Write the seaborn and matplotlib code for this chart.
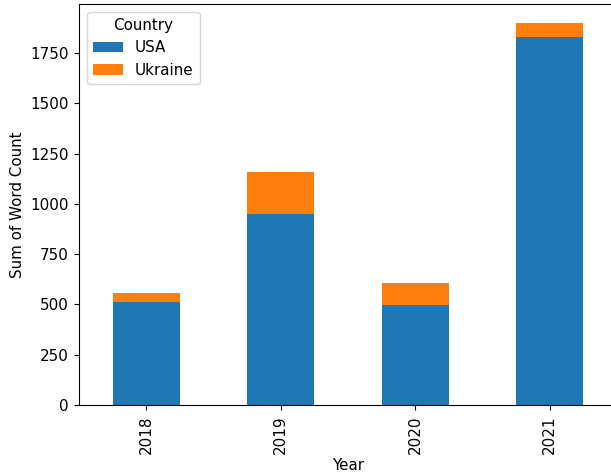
import matplotlib
matplotlib.use("Agg")
import matplotlib.pyplot as plt
from matplotlib.patches import Patch
import pandas as pd
import seaborn as sns

years = ["2018", "2019", "2020", "2021"]
usa_words = [510, 952, 496, 1830]
ukraine_words = [45, 208, 109, 69]

df = pd.DataFrame({"Year": years, "USA": usa_words, "Ukraine": ukraine_words})
df["Total"] = df["USA"] + df["Ukraine"]

blue = "#1f77b4"
orange = "#ff7f0e"

plt.rcParams["font.size"] = 10.9
plt.rcParams["xtick.major.size"] = 3.8
plt.rcParams["ytick.major.size"] = 3.8

fig = plt.figure(figsize=(6.11, 4.75), dpi=100)
ax = fig.add_axes([79 / 611, 1 - 405 / 475, 538 / 611, 401 / 475])

# stacked bars: full height in orange, USA share drawn over it in blue
sns.barplot(data=df, x="Year", y="Total", color=orange, width=0.5,
            saturation=1, ax=ax)
sns.barplot(data=df, x="Year", y="USA", color=blue, width=0.5,
            saturation=1, ax=ax)

ax.set_xlim(-0.5, 3.5)
ax.set_ylim(0, df["Total"].max() * 1.05)
ax.set_xlabel("Year", labelpad=3)
ax.set_ylabel("Sum of Word Count")
ax.tick_params(axis="x", rotation=90)
ax.spines["right"].set_visible(False)

handles = [Patch(facecolor=blue, label="USA"),
           Patch(facecolor=orange, label="Ukraine")]
ax.legend(handles=handles, title="Country", loc="upper left")

fig.savefig("out.png", dpi=100)
